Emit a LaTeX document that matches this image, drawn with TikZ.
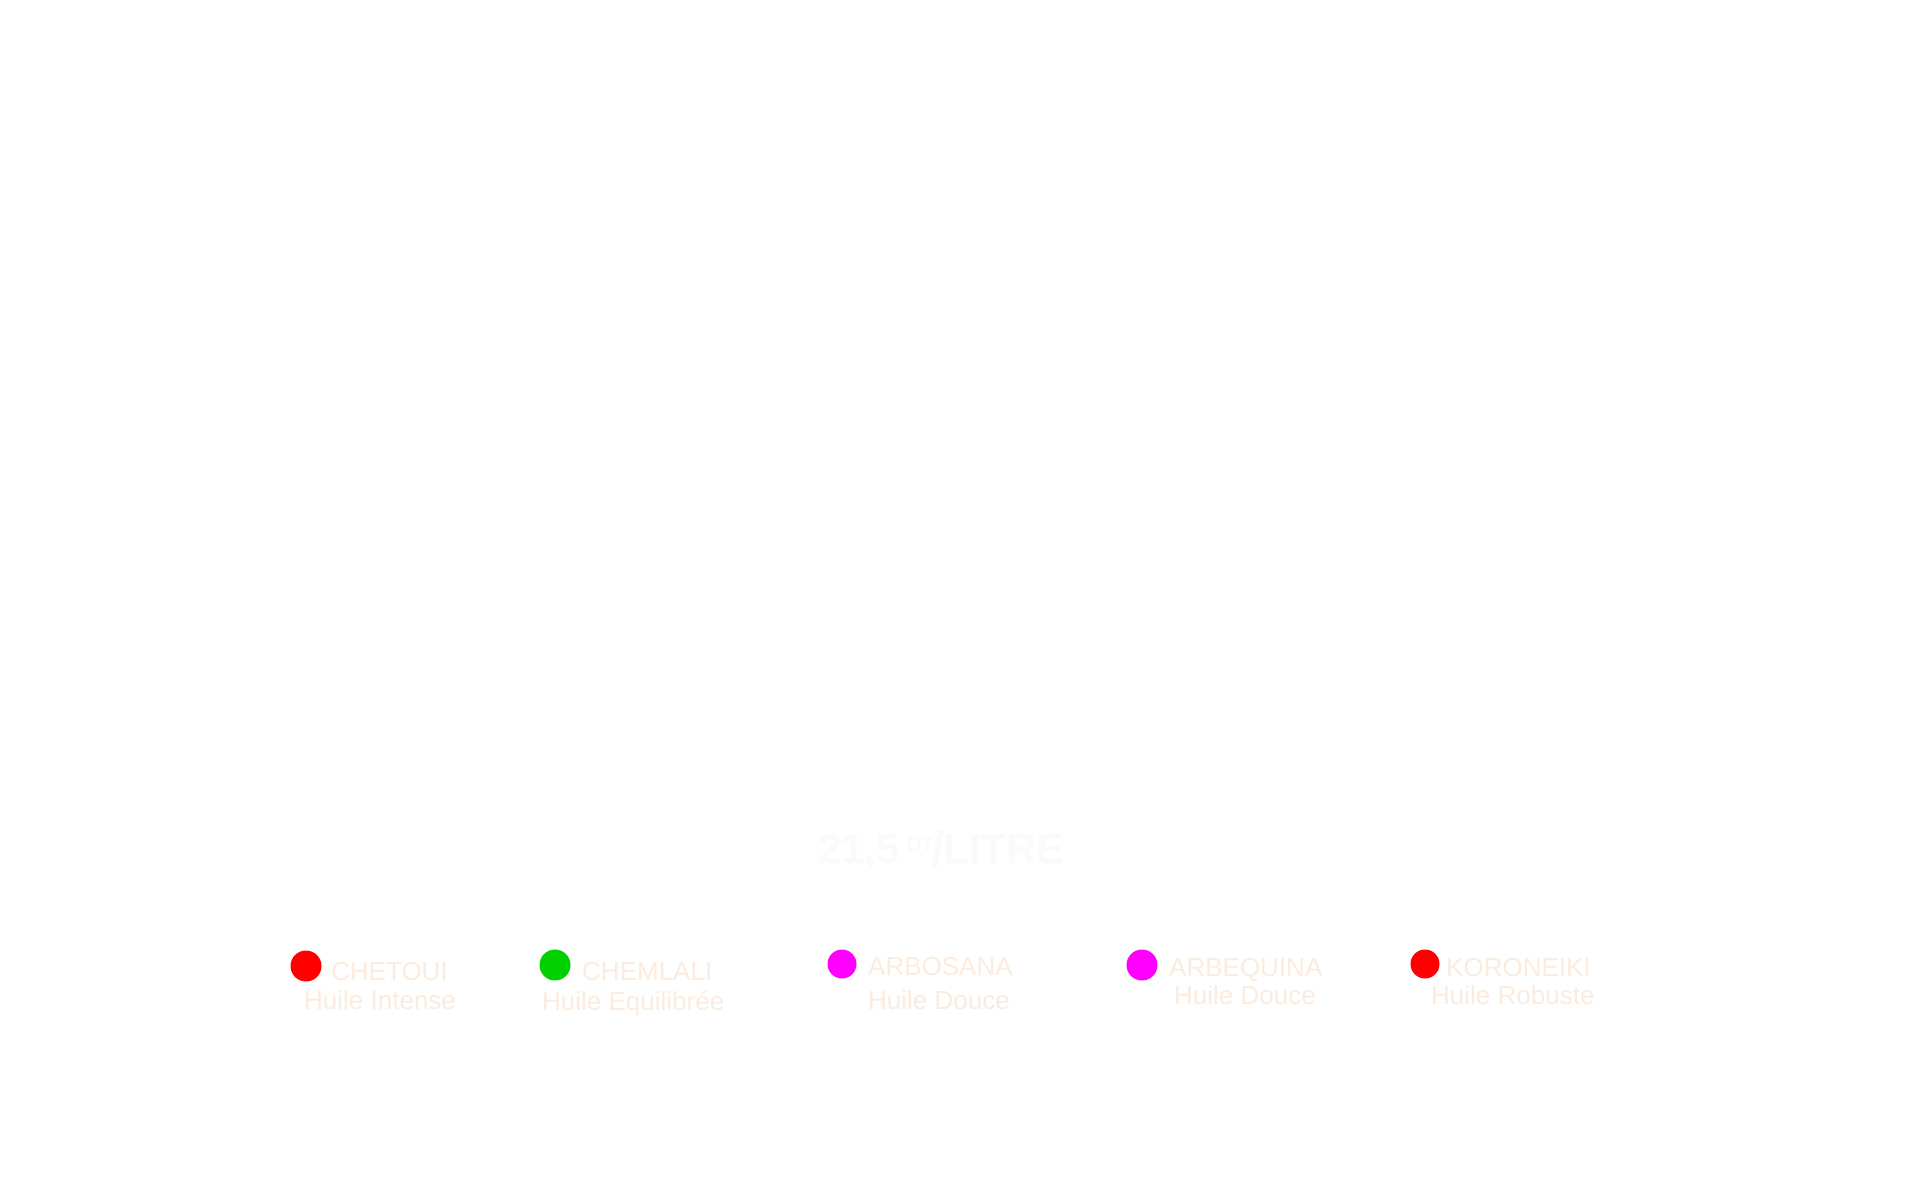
\documentclass[tikz,border=0pt]{standalone}
\usepackage{fontspec}
\setmainfont{Liberation Sans}
\definecolor{lab}{HTML}{FCEBDF}
\definecolor{faint}{HTML}{FAFAFA}
\definecolor{dred}{HTML}{FF0000}
\definecolor{dgreen}{HTML}{00D000}
\definecolor{dmag}{HTML}{FF00FF}
\begin{document}
\begin{tikzpicture}[x=1pt,y=-1pt,
  lbl/.style={anchor=base west,inner sep=0,text=lab,font=\fontsize{26}{26}\selectfont},
  dot/.style={circle,inner sep=0,minimum size=31pt}]
\useasboundingbox[fill=white] (0,0) rectangle (1920,1200);
\node[lbl,text=faint,font=\bfseries\fontsize{42}{42}\selectfont] (price) at (818,863) {21,5\,\raisebox{12pt}{\fontsize{20}{20}\selectfont DT}\kern-2pt\raisebox{-3pt}{\fontsize{50}{50}\selectfont/}\kern-2pt LITRE};
\node[dot,fill=dred] (d1) at (306,966) {};
\node[lbl] (n1) at (331,980) {CHETOUI};
\node[lbl] (s1) at (304,1009) {Huile Intense};
\node[dot,fill=dgreen] (d2) at (555,965) {};
\node[lbl] (n2) at (582,980) {CHEMLALI};
\node[lbl] (s2) at (542,1010) {Huile Equilibrée};
\node[dot,fill=dmag,minimum size=29pt] (d3) at (842,964) {};
\node[lbl] (n3) at (868,975) {ARBOSANA};
\node[lbl] (s3) at (868,1009) {Huile Douce};
\node[dot,fill=dmag] (d4) at (1142,965) {};
\node[lbl] (n4) at (1169,976) {ARBEQUINA};
\node[lbl] (s4) at (1174,1004) {Huile Douce};
\node[dot,fill=dred,minimum size=29pt] (d5) at (1425,964) {};
\node[lbl] (n5) at (1446,976) {KORONEIKI};
\node[lbl] (s5) at (1431,1004) {Huile Robuste};
\end{tikzpicture}
\end{document}
